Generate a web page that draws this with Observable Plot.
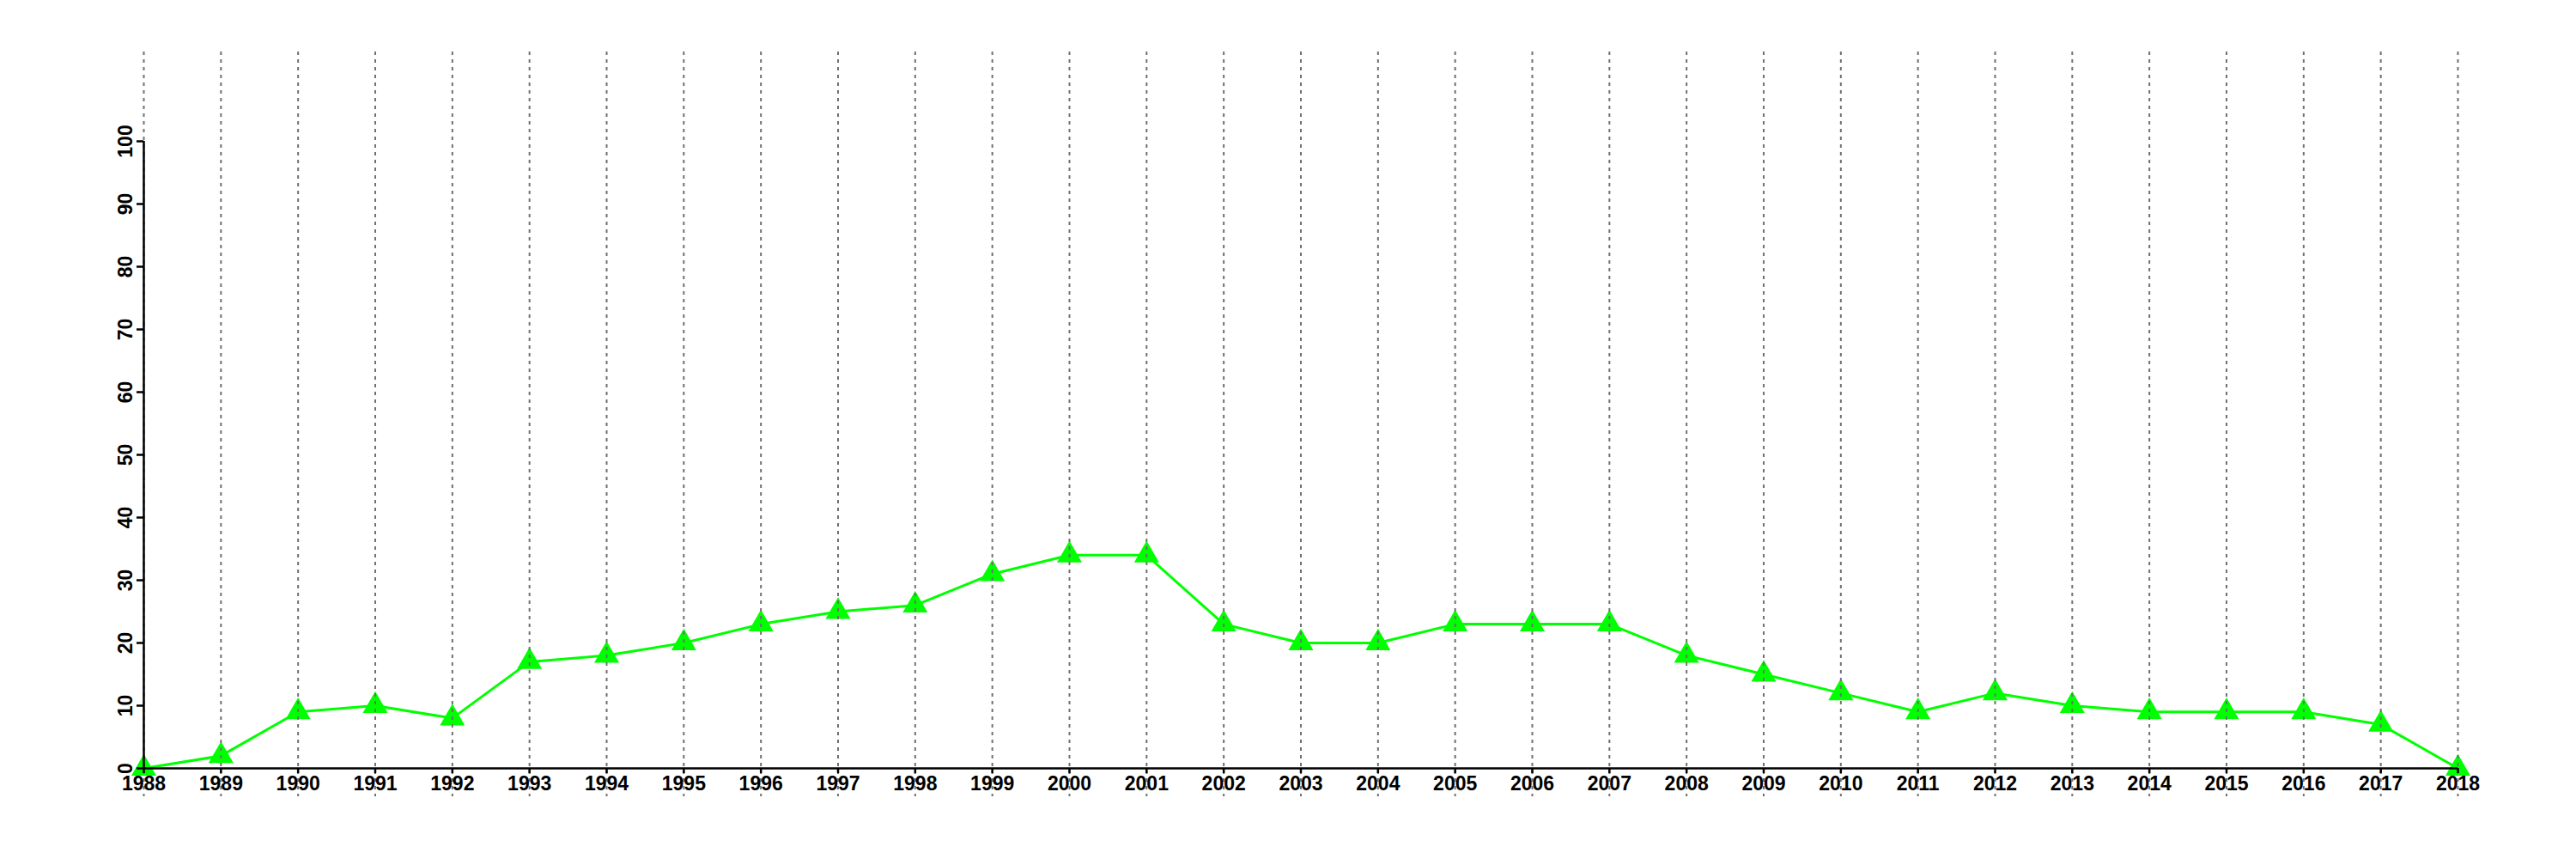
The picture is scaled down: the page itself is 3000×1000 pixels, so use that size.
<!DOCTYPE html>
<html><head><meta charset="utf-8">
<script src="https://cdn.jsdelivr.net/npm/d3@7"></script>
<script src="https://cdn.jsdelivr.net/npm/@observablehq/plot@0.6"></script>
<style>body{margin:0;background:#fff}</style>
</head><body><div id="chart"></div>
<script>
const years = [1988,1989,1990,1991,1992,1993,1994,1995,1996,1997,1998,1999,2000,2001,2002,2003,2004,2005,2006,2007,2008,2009,2010,2011,2012,2013,2014,2015,2016,2017,2018];
const values = [0,2,9,10,8,17,18,20,23,25,26,31,34,34,23,20,20,23,23,23,18,15,12,9,12,10,9,9,9,7,0];
const yTicks = [0,10,20,30,40,50,60,70,80,90,100];

const data = years.map((year, i) => ({year, value: values[i]}));
const font = "'Liberation Sans', Arial, Helvetica, sans-serif";

const chart = Plot.plot({
  width: 3000,
  height: 1000,
  marginLeft: 167,
  marginRight: 138,
  marginTop: 60,
  marginBottom: 73,
  style: {fontFamily: font, fontSize: "23px", fontWeight: "bold", background: "#fff", color: "#000"},
  x: {domain: [years[0], years[years.length - 1]]},
  y: {domain: [yTicks[0], yTicks[yTicks.length - 1]], range: [894, 164]},
  marks: [
    Plot.line(data, {x: "year", y: "value", stroke: "#00ff00", strokeWidth: 3}),
    Plot.dot(data, {x: "year", y: "value", symbol: "triangle", r: 10.8, fill: "#00ff00", stroke: "none"}),
    Plot.ruleX(years, {stroke: "#707070", strokeWidth: 2, strokeDasharray: "4,5"}),
    Plot.ruleY([yTicks[0]], {stroke: "#000", strokeWidth: 2.5}),
    Plot.ruleX([years[0]], {y1: yTicks[0], y2: yTicks[yTicks.length - 1], stroke: "#000", strokeWidth: 2.5}),
    Plot.axisX({ticks: years, tickFormat: "d", tickSize: 6, tickPadding: 3, label: null, dy: -33,
      fontSize: 23, fontWeight: "bold", fontFamily: font, strokeWidth: 2.5}),
    Plot.axisY({ticks: yTicks, tickSize: 8, tickPadding: 6, tickRotate: -90, label: null,
      fontSize: 23, fontWeight: "bold", fontFamily: font, strokeWidth: 2.5})
  ]
});
document.getElementById("chart").appendChild(chart);
</script>
</body></html>
